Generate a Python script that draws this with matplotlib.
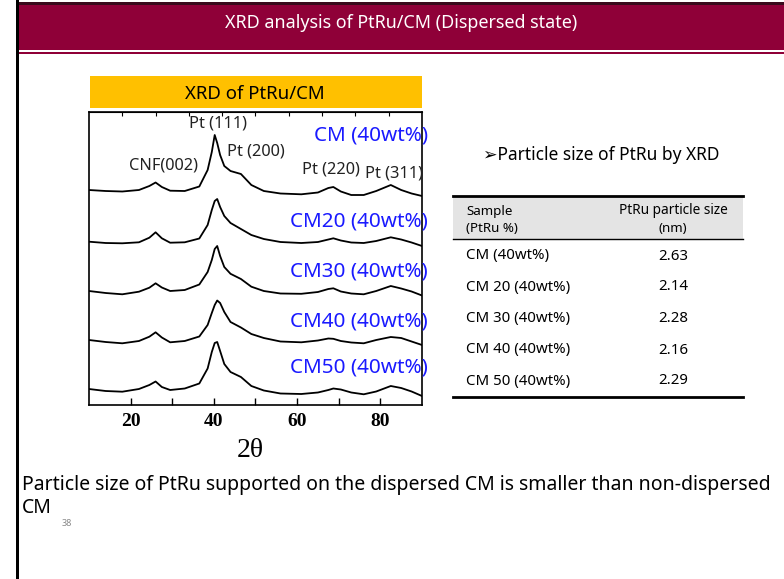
import matplotlib
matplotlib.use("Agg")
import matplotlib.pyplot as plt
from matplotlib.patches import Rectangle
from matplotlib.lines import Line2D

# ---------------- data ----------------
two_theta = [10, 14, 18, 22, 24.5, 26, 27.5, 29.5, 33, 36.5, 38.5, 39.5, 40.2, 40.8,
             41.5, 42.5, 44, 46.5, 49, 52, 56, 61, 65, 67.5, 68.7, 70.5, 73, 76, 79,
             82.5, 85, 87.5, 90]

int_cm = [215, 214, 213.5, 215, 219, 222.5, 218, 214.3, 214, 218.5, 235, 253, 270, 262,
          250, 239, 234, 231, 220, 214, 211.5, 210.7, 212.5, 217, 218, 213.5, 210, 210,
          214, 220, 215, 211.5, 209]
int_cm20 = [163.3, 162, 161.7, 162.7, 167.3, 172.7, 166.7, 162.3, 162.7, 166.5, 180, 195,
            204, 206, 198, 189, 182, 176, 170, 166, 163, 162, 163, 165.5, 166.7, 164.5,
            162.5, 162, 164, 167.7, 165.5, 162.5, 159]
int_cm30 = [114, 112, 110.7, 113.3, 117.3, 121.7, 117.5, 114, 115, 120.5, 133, 145, 156,
            159, 149, 138, 131.2, 126, 118.3, 114, 111.5, 111.2, 113, 116, 116.7, 113.5,
            111.5, 110.7, 114, 119, 116.5, 113.5, 109.5]
int_cm40 = [65, 63, 61.7, 64, 68.3, 72.7, 67.5, 62.7, 64, 68.5, 80, 92, 100, 104.5, 102,
            93, 83, 77.5, 71, 67, 63.5, 62.7, 64.5, 66.5, 66.2, 64, 62.5, 61.7, 65, 68, 67,
            63.5, 60]
int_cm50 = [16, 14, 13.3, 16, 20, 23.5, 18, 15, 16.5, 21.5, 36.5, 53, 62, 63, 54, 41, 33,
            28, 19, 14.5, 11.5, 11, 12.5, 15, 16.5, 15.5, 12.5, 10.7, 13.5, 19, 17, 13.5, 9]

series_labels = ["CM (40wt%)", "CM20 (40wt%)", "CM30 (40wt%)", "CM40 (40wt%)", "CM50 (40wt%)"]
label_y = [270, 184, 134, 83, 37]

peak_labels = ["CNF(002)", "Pt (111)", "Pt (200)", "Pt (220)", "Pt (311)"]
peak_x = [27.8, 41.0, 50.1, 68.1, 83.3]
peak_y = [240, 282, 253, 235, 232]

x_ticks = [20, 40, 60, 80]
x_minor = [30, 50, 70]
top_ticks = [18, 26, 34, 42, 50, 58, 66, 74, 82]

table_samples = ["CM (40wt%)", "CM 20 (40wt%)", "CM 30 (40wt%)", "CM 40 (40wt%)", "CM 50 (40wt%)"]
table_sizes = ["2.63", "2.14", "2.28", "2.16", "2.29"]

# ---------------- figure ----------------
W, H = 784, 579
fig = plt.figure(figsize=(W / 100, H / 100), dpi=100)
fig.patch.set_facecolor("white")

def fx(x):
    return x / W

def fy(y):
    return 1 - y / H

def rect(x0, y0, x1, y1, color, z=1):
    fig.add_artist(Rectangle((fx(x0), fy(y1)), fx(x1) - fx(x0), fy(y0) - fy(y1),
                             transform=fig.transFigure, facecolor=color,
                             edgecolor="none", zorder=z))

def hline(x0, x1, y, lw, color="black"):
    fig.add_artist(Line2D([fx(x0), fx(x1)], [fy(y), fy(y)], transform=fig.transFigure,
                          color=color, lw=lw, zorder=3))

sans = ["Noto Sans", "DejaVu Sans"]
RED = "#8F0038"

# header band
rect(16, 2, W, 4.5, "#3a0a1c")
rect(16, 4.5, W, 50, RED)
rect(16, 52, W, 54, RED)
# left border
rect(16, 0, 18.5, H, "black", z=4)

fig.text(fx(401), fy(23), "XRD analysis of PtRu/CM (Dispersed state)", color="white",
         fontsize=12.9, family=sans, ha="center", va="center")

# orange bar
rect(90, 76, 422, 108, "#FFC000")
fig.text(fx(255), fy(94), "XRD of PtRu/CM", color="black", fontsize=13.4,
         family=sans, ha="center", va="center")

# ---------------- axes ----------------
ax = fig.add_axes([fx(89), fy(405), fx(422) - fx(89), fy(112) - fy(405)])
for s in [int_cm, int_cm20, int_cm30, int_cm40, int_cm50]:
    ax.plot(two_theta, s, color="black", lw=1.3)
ax.set_xlim(10, 90)
ax.set_ylim(0, 293)
ax.set_yticks([])
ax.set_xticks(x_ticks)
ax.set_xticks(x_minor, minor=True)
ax.tick_params(axis="x", which="both", direction="in", length=5, width=1, pad=6)
for lab in ax.get_xticklabels():
    lab.set_fontfamily("Liberation Serif")
    lab.set_fontweight("bold")
    lab.set_fontsize(14)
ax.set_xlabel("2θ", fontsize=20, family="Liberation Serif")
ax.xaxis.set_label_coords(0.485, -0.112)
ax.xaxis.label.set_va("top")
for sp in ax.spines.values():
    sp.set_linewidth(1.2)

top = ax.secondary_xaxis("top")
top.set_xticks(top_ticks)
top.tick_params(direction="in", length=3, width=0.8, labeltop=False)

for lab, yy in zip(series_labels, label_y):
    ax.text(91.4, yy, lab, color="#1a1aff", fontsize=14.9, family=sans,
            ha="right", va="center", clip_on=False)
for lab, xx, yy in zip(peak_labels, peak_x, peak_y):
    ax.text(xx, yy, lab, color="#222222", fontsize=11.8, family=sans,
            ha="center", va="center", clip_on=False)

# ---------------- table ----------------
fig.text(fx(601), fy(155), "\u27a2Particle size of PtRu by XRD", fontsize=12.5,
         family=sans, ha="center", va="center")
rect(453, 196, 743, 238.5, "#E4E4E4")
hline(453, 743, 196, 2.0)
hline(453, 743, 239, 1.0)
hline(453, 743, 397, 2.0)
fig.text(fx(466), fy(211), "Sample", fontsize=9.6, family=sans, va="center")
fig.text(fx(466), fy(229), "(PtRu %)", fontsize=9.6, family=sans, va="center")
fig.text(fx(673), fy(211), "PtRu particle size", fontsize=9.8, family=sans,
         ha="center", va="center")
fig.text(fx(673), fy(229), "(nm)", fontsize=9.6, family=sans, ha="center", va="center")
row_y = [256, 287, 318.5, 350, 381]
for smp, val, yy in zip(table_samples, table_sizes, row_y):
    fig.text(fx(466), fy(yy), smp, fontsize=10.8, family=sans, va="center")
    fig.text(fx(673), fy(yy), val, fontsize=10.8, family=sans, ha="center", va="center")

# ---------------- bottom text ----------------
fig.text(fx(22), fy(485), "Particle size of PtRu supported on the dispersed CM is smaller than non-dispersed",
         fontsize=14.0, family=sans, va="center")
fig.text(fx(22), fy(508), "CM", fontsize=14.0, family=sans, va="center")
fig.text(fx(62), fy(524), "38", fontsize=6.5, family=sans, va="center", color="#888888")

fig.savefig("out.png", dpi=100)
